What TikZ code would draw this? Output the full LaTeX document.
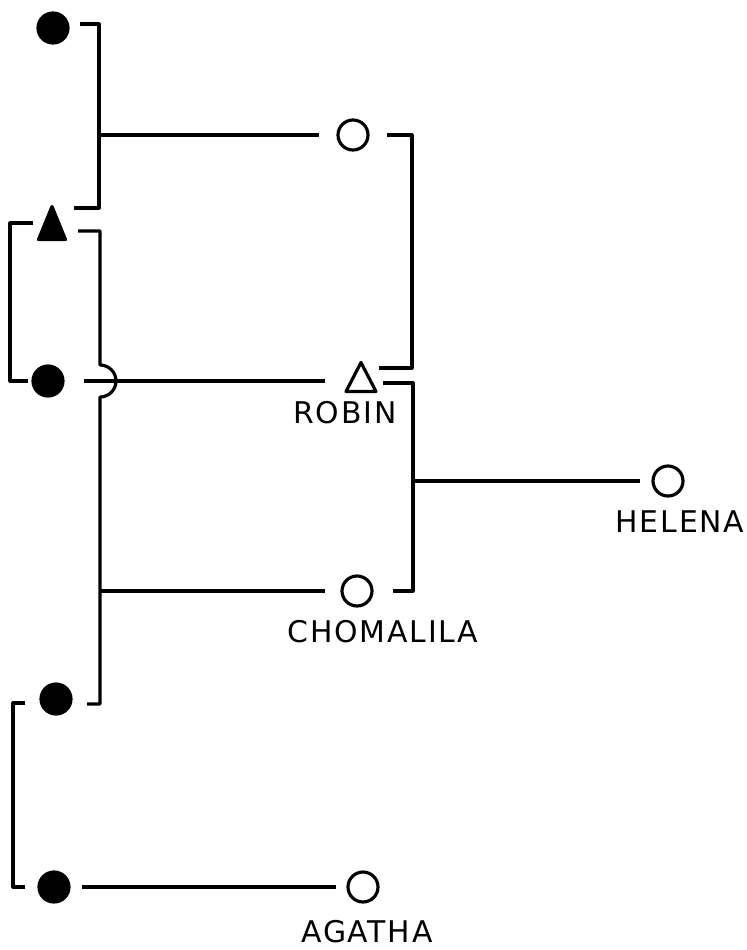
\documentclass[tikz,border=0pt]{standalone}
\usepackage{fontspec}
\setmainfont[LetterSpace=6]{DejaVu Sans}
\usetikzlibrary{calc}

\begin{document}
\begin{tikzpicture}[x=0.02cm, y=-0.02cm, line width=1.8pt, line join=round,
    woman/.style = {circle, draw, minimum size=#1,
                inner sep=0pt, outer sep=0pt},
    woman/.default = 0.6cm,  % circle diameter
    deadwoman/.style = {woman, fill},
    man/.style = {rectangle, minimum width=#1, minimum height=0.58cm,
                inner sep=0pt, outer sep=0pt},
    man/.default = 0.6cm,  % box of the triangle
    tie/.style = {shorten >=#1},
    tie/.default = 0.38cm,
    kinname/.style = {font=\fontsize{17}{17}\selectfont}
                    ]
        \useasboundingbox (0,0) rectangle (747,950);
        \foreach \x/\y/\v in {53/28/A, 48/381/D, 56/699/E, 54/887/F}
            \node[deadwoman] at (\x,\y) (\v) {};
        \node[man=0.54cm, minimum height=0.66cm] at (52,223) (C) {};
        \filldraw (C.north) -- (C.south east) -- (C.south west) -- cycle;
        \foreach \x/\y/\v in {353/135/B, 357/591/Ch, 668/481/H, 363/887/G}
            \node[woman] at (\x,\y) (\v) {};
        \node[man] at (361,377) (R) {};
        \draw (R.north) -- (R.south east) -- (R.south west) -- cycle;
        \foreach \x/\y/\t in {345/413/ROBIN, 383/632/CHOMALILA, 680/522/HELENA, 367/932/AGATHA}
            \node[kinname] at (\x,\y) (\t) {\t};
        \coordinate (ac) at (99,135);
        \coordinate (ce) at (100,591);
        \coordinate (rc) at (413,481);
        \draw ($(A)+(27,-4)$) -| ($(C)+(47,-15)$) -- ++(-25,0);
        \draw [tie] (ac) -- (B);
        \draw ($(C)+(26,8)$) -- ++(22,0) -- (100,365)
            arc [start angle=-90, end angle=90, radius=16] -- ($(E)+(44,5)$) -- ++(-13,0);
        \draw [tie=0.34cm] (ce) -- (Ch);
        \draw ($(C)+(-19,0)$) -| ($(D)+(-38,0)$) -- ++(18,0);
        \draw ($(E)+(-31,4)$) -| ($(F)+(-41,0)$) -- ++(12,0);
        \draw [tie=0.42cm] ($(D)+(36,0)$) -- (D -| R.west);
        \draw ($(B)+(34,0)$) -- ++(25,0) |- ($(R)+(18,-9)$);
        \draw ($(R)+(22,6)$) -- ++(30,0) |- ($(Ch)+(36,0)$);
        \draw [tie=0.26cm] (rc) -- (H);
        \draw [tie=0.24cm] ($(F)+(28,0)$) -- (G);
    \end{tikzpicture}
\end{document}
